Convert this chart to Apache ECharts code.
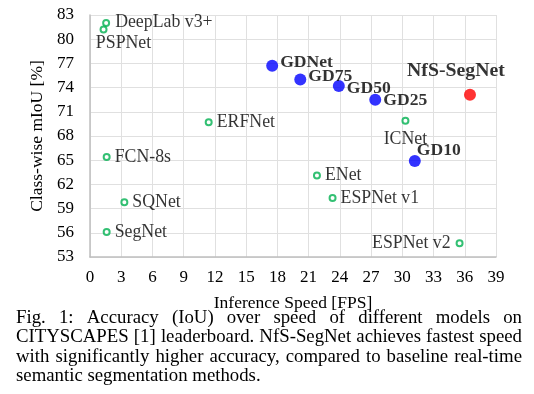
<!DOCTYPE html>
<html><head><meta charset="utf-8">
<script src="https://cdn.jsdelivr.net/npm/echarts@6/dist/echarts.min.js"></script>
<style>html,body{margin:0;padding:0;background:#fff}#c{width:534px;height:394px}</style>
</head><body><div id="c"></div>
<script>
const baselineNames = ['DeepLab v3+','PSPNet','ERFNet','FCN-8s','SQNet','SegNet','ENet','ESPNet v1','ICNet','ESPNet v2'];
const baselineFps   = [1.55, 1.3, 11.4, 1.6, 3.3, 1.6, 21.8, 23.3, 30.3, 35.5];
const baselineMiou  = [82.0, 81.2, 69.7, 65.4, 59.8, 56.1, 63.1, 60.3, 69.9, 54.7];
const gdNames = ['GDNet','GD75','GD50','GD25','GD10'];
const gdFps   = [17.5, 20.2, 23.9, 27.4, 31.2];
const gdMiou  = [76.7, 75.0, 74.2, 72.5, 64.9];
const nfsNames = ['NfS-SegNet'];
const nfsFps   = [36.5];
const nfsMiou  = [73.1];
const xTicks = {min:0, max:39, step:3};
const yTicks = {min:53, max:83, step:3};
const xTitle = 'Inference Speed [FPS]';
const yTitle = 'Class-wise mIoU [%]';
const captionLines = [
  'Fig. 1: Accuracy (IoU) over speed of different models on',
  'CITYSCAPES [1] leaderboard. NfS-SegNet achieves fastest speed',
  'with significantly higher accuracy, compared to baseline real-time',
  'semantic segmentation methods.'
];

const FONT = '"Liberation Serif","Times New Roman",serif';
const labelStyle = {
  'DeepLab v3+': {position:'right', distance:5, offset:[0,-1]},
  'PSPNet': {position:'bottom', distance:1, offset:[20,0]},
  'ICNet': {position:'bottom', distance:6},
  'ESPNet v2': {position:'left', distance:5}
};
const gdLabelStyle = {
  'GDNet': {offset:[0,-3]},
  'GD75': {offset:[0,-3]},
  'GD50': {offset:[0,2]},
  'GD25': {offset:[0,1]},
  'GD10': {offset:[-6,-11]}
};

const chart = echarts.init(document.getElementById('c'));

const baseData = baselineNames.map((n,i)=>{
  const ls = labelStyle[n] || {position:'right', distance:4};
  return {name:n, value:[baselineFps[i], baselineMiou[i]], label:Object.assign({}, ls)};
});
const gdData = gdNames.map((n,i)=>({name:n, value:[gdFps[i], gdMiou[i]], label:Object.assign({position:'right', distance:2}, gdLabelStyle[n]||{})}));
const nfsData = nfsNames.map((n,i)=>({name:n, value:[nfsFps[i], nfsMiou[i]]}));

// justified caption
const ctx = document.createElement('canvas').getContext('2d');
const capFont = 18.8;
ctx.font = capFont + 'px ' + FONT;
const capLeft = 16, capRight = 522, capTop = [318, 337.3, 356.6, 376];
const graphics = [];
captionLines.forEach((line, li)=>{
  const words = line.split(' ');
  const justify = li < captionLines.length - 1;
  const widths = words.map(w=>ctx.measureText(w).width);
  const total = widths.reduce((a,b)=>a+b,0);
  const gap = justify ? (capRight - capLeft - total)/(words.length-1) : ctx.measureText(' ').width;
  let x = capLeft;
  words.forEach((w,wi)=>{
    graphics.push({type:'text', x:x, y:capTop[li], style:{text:w, font:capFont+'px '+FONT, fill:'#000', textVerticalAlign:'middle', verticalAlign:'middle'}});
    x += widths[wi] + gap;
  });
});

chart.setOption({
  animation:false,
  backgroundColor:'#fff',
  grid:{left:90, right:38, top:15, bottom:137},
  xAxis:{type:'value', min:xTicks.min, max:xTicks.max, interval:xTicks.step,
    name:xTitle, nameLocation:'middle', nameGap:37,
    nameTextStyle:{fontFamily:FONT, fontSize:17.5, color:'#000'},
    axisLine:{show:true, lineStyle:{color:'#bfbfbf', width:1.5}}, axisTick:{show:false},
    axisLabel:{fontFamily:FONT, fontSize:17, color:'#000', margin:12},
    splitLine:{show:true, lineStyle:{color:'#e0e0e0', width:1}}},
  yAxis:{type:'value', min:yTicks.min, max:yTicks.max, interval:yTicks.step,
    name:yTitle, nameLocation:'middle', nameGap:39,
    nameTextStyle:{fontFamily:FONT, fontSize:17.5, color:'#000'},
    axisLine:{show:true, lineStyle:{color:'#bfbfbf', width:1.5}}, axisTick:{show:false},
    axisLabel:{fontFamily:FONT, fontSize:17, color:'#000', margin:16},
    splitLine:{show:true, lineStyle:{color:'#e0e0e0', width:1}}},
  series:[
    {type:'scatter', data:baseData, symbol:'circle', symbolSize:6,
      itemStyle:{color:'#fff', borderColor:'#00b050', borderWidth:2},
      label:{show:true, formatter:'{b}', fontFamily:FONT, fontSize:17.8, color:'#000'}},
    {type:'scatter', data:gdData, symbol:'circle', symbolSize:12,
      itemStyle:{color:'#0000ff'},
      label:{show:true, formatter:'{b}', fontFamily:FONT, fontSize:17.6, fontWeight:'bold', color:'#000'}},
    {type:'scatter', data:nfsData, symbol:'circle', symbolSize:12,
      itemStyle:{color:'#ff0000'},
      label:{show:true, formatter:'{b}', position:'top', distance:8, offset:[-14,0], fontFamily:FONT, fontSize:19.8, fontWeight:'bold', color:'#000'}}
  ],
  graphic:graphics
});
</script></body></html>
